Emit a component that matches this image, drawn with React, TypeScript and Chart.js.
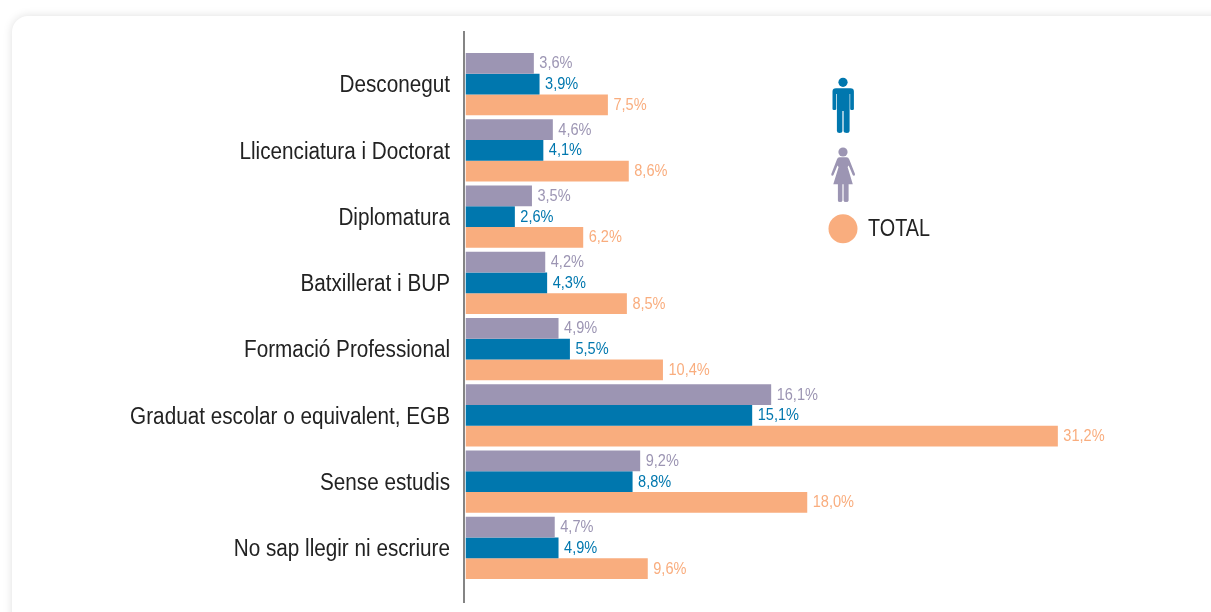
import React, { useEffect, useRef } from "react";
import { Chart, registerables } from "chart.js";

Chart.register(...registerables);

const categories = [
  "Desconegut",
  "Llicenciatura i Doctorat",
  "Diplomatura",
  "Batxillerat i BUP",
  "Formació Professional",
  "Graduat escolar o equivalent, EGB",
  "Sense estudis",
  "No sap llegir ni escriure",
];
const dones = [3.6, 4.6, 3.5, 4.2, 4.9, 16.1, 9.2, 4.7];
const homes = [3.9, 4.1, 2.6, 4.3, 5.5, 15.1, 8.8, 4.9];
const total = [7.5, 8.6, 6.2, 8.5, 10.4, 31.2, 18.0, 9.6];

const PURPLE = "#9c95b3";
const BLUE = "#0077ae";
const ORANGE = "#f9ad7e";
const FONT = '"Liberation Sans", Arial, sans-serif';

function squeezedText(ctx: any, text: string, x: number, y: number, sx: number, align: string) {
  ctx.save();
  ctx.translate(x, y);
  ctx.scale(sx, 1);
  ctx.textAlign = align;
  ctx.fillText(text, 0, 0);
  ctx.restore();
}

const valueLabels = {
  id: "valueLabels",
  afterDatasetsDraw(chart: any) {
    const { ctx } = chart;
    ctx.save();
    ctx.font = `16px ${FONT}`;
    ctx.textBaseline = "middle";
    chart.data.datasets.forEach((ds: any, i: number) => {
      ctx.fillStyle = ds.backgroundColor;
      chart.getDatasetMeta(i).data.forEach((bar: any, j: number) => {
        squeezedText(ctx, ds.data[j].toFixed(1).replace(".", ",") + "%", bar.x + 5.5, bar.y + 0.5, 0.91, "left");
      });
    });
    ctx.restore();
  },
};

const categoryLabels = {
  id: "categoryLabels",
  afterDraw(chart: any) {
    const { ctx, chartArea, scales } = chart;
    ctx.save();
    ctx.font = `23px ${FONT}`;
    ctx.fillStyle = "#222222";
    ctx.textBaseline = "middle";
    chart.data.labels.forEach((label: string, i: number) => {
      squeezedText(ctx, label, chartArea.left - 15.5, scales.y.getPixelForTick(i) + 2, 0.9, "right");
    });
    ctx.restore();
  },
};

const axisLine = {
  id: "axisLine",
  afterDraw(chart: any) {
    const { ctx, chartArea } = chart;
    ctx.save();
    ctx.strokeStyle = "#333333";
    ctx.lineWidth = 1.2;
    ctx.beginPath();
    ctx.moveTo(chartArea.left - 1.5, chartArea.top - 20);
    ctx.lineTo(chartArea.left - 1.5, chartArea.bottom + 22);
    ctx.stroke();
    ctx.restore();
  },
};

export default function App() {
  const ref = useRef<HTMLCanvasElement>(null);
  useEffect(() => {
    const chart = new Chart(ref.current!, {
      type: "bar",
      data: {
        labels: categories,
        datasets: [
          { label: "Dones", data: dones, backgroundColor: PURPLE },
          { label: "Homes", data: homes, backgroundColor: BLUE },
          { label: "TOTAL", data: total, backgroundColor: ORANGE },
        ],
      },
      options: {
        indexAxis: "y",
        animation: false,
        responsive: false,
        maintainAspectRatio: false,
        layout: { padding: { top: 51, bottom: 31, right: 81, left: 0 } },
        datasets: { bar: { categoryPercentage: 0.94, barPercentage: 1 } },
        plugins: { legend: { display: false }, tooltip: { enabled: false }, title: { display: false } },
        scales: {
          x: { display: false, min: 0, max: 35 },
          y: {
            afterFit(scale: any) {
              scale.width = 465.5;
            },
            border: { display: false },
            grid: { display: false, drawTicks: false },
            ticks: { display: false, autoSkip: false },
          },
        },
      },
      plugins: [valueLabels, categoryLabels, axisLine],
    } as any);
    return () => chart.destroy();
  }, []);

  return (
    <div style={{ position: "fixed", left: 0, top: 0, width: 1211, height: 612, overflow: "hidden", background: "#ffffff" }}>
      <div
        style={{
          position: "absolute",
          left: 12,
          top: 16,
          width: 1260,
          height: 660,
          borderRadius: 16,
          background: "#ffffff",
          boxShadow: "0 0 10px rgba(0,0,0,0.13)",
        }}
      />
      <canvas ref={ref} width={1211} height={612} style={{ position: "absolute", left: 0, top: 0, display: "block" }} />
      <svg width={1211} height={612} style={{ position: "absolute", left: 0, top: 0 }}>
        <g fill={BLUE}>
          <circle cx={843} cy={82.3} r={4.6} />
          <path d="M836 88.3 H850.5 Q853.9 88.3 853.9 91.5 V109 Q853.9 110 852.5 110 H851.5 Q850.2 110 850.2 109 V94 H849.6 V131 Q849.6 132.9 847 132.9 Q843.6 132.9 843.6 131 V111 H842.4 V131 Q842.4 132.9 839.5 132.9 Q836.9 132.9 836.9 131 V94 H836.2 V109 Q836.2 110 834.9 110 H833.9 Q832.5 110 832.5 109 V91.5 Q832.5 88.3 836 88.3 Z" />
        </g>
        <g fill={PURPLE}>
          <circle cx={843} cy={152} r={4.6} />
          <path d="M839.5 157.3 H846.5 Q848.5 157.3 849.3 159.5 L855 174 Q855.2 175.5 854 175.7 Q853 175.7 852.6 174.7 L848.7 165.5 L847.6 167 L852.8 184.3 H848.6 V200.5 Q848.6 202 846 202 Q843.6 202 843.6 200.5 V184.3 H842.4 V200.5 Q842.4 202 840 202 Q837.9 202 837.9 200.5 V184.3 H833.3 L838.6 167 L837.5 165.5 L833.6 174.7 Q833.2 175.7 832.2 175.7 Q831 175.5 831.3 174 L836.9 159.5 Q837.6 157.3 839.5 157.3 Z" />
        </g>
        <circle cx={843} cy={228.7} r={14.5} fill={ORANGE} />
        <text x={868} y={236} fontFamily={FONT} fontSize={24} fill="#222222" textLength={62} lengthAdjust="spacingAndGlyphs">TOTAL</text>
      </svg>
    </div>
  );
}
